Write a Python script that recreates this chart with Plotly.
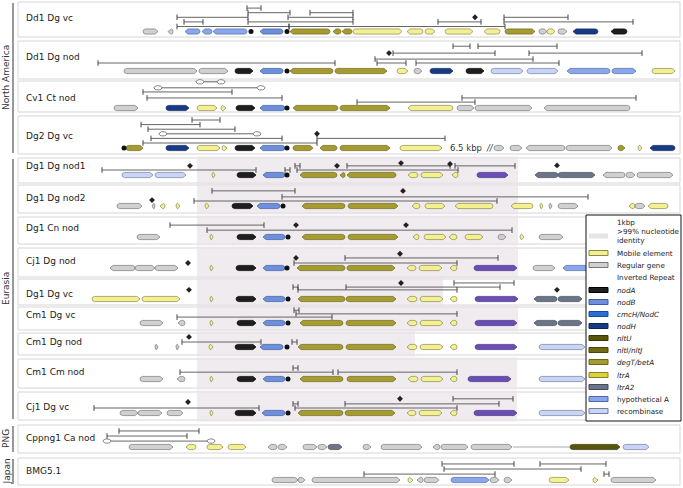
import plotly.graph_objects as go
import math

# ---------------- data ----------------
row_names = ["Dd1 Dg vc", "Dd1 Dg nod", "Cv1 Ct nod", "Dg2 Dg vc",
             "Dg1 Dg nod1", "Dg1 Dg nod2", "Dg1 Cn nod", "Cj1 Dg nod", "Dg1 Dg vc",
             "Cm1 Dg vc", "Cm1 Dg nod", "Cm1 Cm nod", "Cj1 Dg vc",
             "Cppng1 Ca nod", "BMG5.1"]
group_names = ["North America", "Eurasia", "PNG", "Japan"]
group_first = [0, 4, 13, 14]
group_last = [3, 12, 13, 14]

# genes per row: (start, end, type, strand)   positions in map units
g01 = [(143,158,"reg",1),(168,173,"reg",-1),(185,200,"hypA",-1),(202,212,"hypA",-1),(213,247,"hypA",-1),
       (260,283,"nodB",-1),(290,330,"degT",-1),(333,341,"degT",-1),(342,352,"degT",-1),(353,402,"mob",1),
       (407,423,"mob",-1),(425,435,"mob",1),(445,473,"mob",1),(484,500,"mob",-1),(505,535,"degT",1),
       (539,547,"reg",1),(547,555,"mob",1),(558,567,"reg",1),(573,598,"nodH",-1),(611,627,"nodA",-1)]
g02 = [(124,197,"reg",1),(199,228,"reg",1),(235,253,"nodA",1),(260,283,"nodB",-1),(290,333,"degT",-1),
       (335,387,"degT",1),(397,408,"mob",1),(414,422,"reg",1),(430,453,"nodH",1),(466,484,"nodA",1),
       (491,523,"rec",1),(527,558,"rec",1),(567,610,"hypA",-1),(612,636,"hypA",1),(652,675,"mob",1)]
g03 = [(114,138,"reg",1),(166,189,"nodH",1),(197,217,"mob",1),(221,226,"mob",1),(236,255,"nodA",1),
       (260,285,"nodB",-1),(293,338,"degT",-1),(340,390,"degT",1),(408,453,"mob",-1),(457,474,"reg",1),
       (475,532,"reg",1),(544,630,"reg",-1)]
g04 = [(126,143,"degT",1),(166,189,"nodH",1),(197,220,"mob",1),(222,227,"mob",1),(235,255,"nodA",1),
       (260,285,"nodB",-1),(293,313,"degT",1),(320,337,"degT",-1),(340,390,"degT",1),(400,442,"mob",1),
       (494,504,"reg",1),(510,522,"reg",1),(526,565,"reg",-1),(566,612,"reg",1),(618,625,"degT",1),
       (638,642,"mob",1),(650,675,"nodH",-1)]
g05 = [(122,153,"rec",1),(155,186,"rec",1),(212,215,"mob",1),(237,256,"nodA",1),(263,285,"nodB",-1),
       (300,337,"degT",-1),(340,345,"degT",-1),(347,396,"degT",-1),(408,418,"mob",-1),(421,443,"mob",1),
       (452,458,"mob",-1),(477,508,"pur",1),(535,558,"ltrA2",-1),(558,595,"ltrA2",1),(603,625,"reg",-1),
       (626,635,"reg",1),(637,673,"reg",1)]
g06 = [(117,142,"reg",1),(152,155,"reg",-1),(160,165,"mob",-1),(176,180,"mob",1),(205,209,"mob",1),
       (232,253,"nodA",1),(257,280,"nodB",-1),(302,345,"degT",-1),(348,398,"degT",1),(412,420,"mob",-1),
       (425,445,"mob",1),(455,493,"mob",-1),(511,533,"mob",-1),(540,543,"mob",1),(549,552,"reg",1),
       (558,578,"reg",1),(629,635,"mob",-1),(635,645,"reg",1),(648,668,"mob",-1)]
g07 = [(137,160,"reg",1),(210,213,"mob",1),(237,256,"nodA",1),(263,285,"nodB",-1),(302,345,"degT",-1),
       (348,398,"degT",1),(413,419,"mob",-1),(424,446,"mob",1),(449,457,"mob",-1),(465,483,"mob",1),
       (498,506,"reg",1),(520,524,"mob",1),(539,563,"reg",1)]
g08 = [(110,135,"reg",-1),(135,155,"reg",1),(155,178,"reg",1),(210,213,"mob",1),(236,256,"nodA",1),
       (263,285,"nodB",-1),(297,345,"degT",-1),(347,395,"degT",1),(407,416,"mob",-1),(419,442,"mob",1),
       (450,457,"mob",-1),(474,517,"pur",1),(533,555,"reg",1),(563,590,"hypA",-1)]
g09 = [(92,140,"mob",1),(142,180,"mob",1),(210,213,"mob",1),(236,256,"nodA",1),(263,285,"nodB",-1),
       (298,345,"degT",-1),(346,396,"degT",1),(407,417,"mob",-1),(420,443,"mob",1),(450,457,"mob",-1),
       (475,518,"pur",1),(534,557,"ltrA2",-1),(558,582,"ltrA2",1)]
g10 = [(140,163,"reg",1),(178,185,"reg",-1),(210,213,"mob",1),(237,256,"nodA",1),(263,285,"nodB",-1),
       (300,343,"degT",-1),(346,396,"degT",1),(407,417,"mob",-1),(420,443,"mob",1),(450,457,"mob",-1),
       (475,517,"pur",1),(534,557,"ltrA2",-1),(558,582,"ltrA2",1)]
g11 = [(155,158,"reg",1),(176,179,"reg",1),(209,213,"mob",1),(235,256,"nodA",1),(260,283,"nodB",-1),
       (298,343,"degT",-1),(346,396,"degT",1),(407,417,"mob",-1),(420,443,"mob",1),(450,457,"mob",-1),
       (475,517,"pur",1),(539,585,"rec",1)]
g12 = [(140,163,"reg",1),(177,185,"reg",-1),(210,213,"mob",1),(237,256,"nodA",1),(263,285,"nodB",-1),
       (300,343,"degT",-1),(347,396,"degT",1),(408,418,"mob",-1),(421,443,"mob",1),(450,457,"mob",-1),
       (468,511,"pur",1),(539,585,"rec",1)]
g13 = [(120,138,"reg",1),(138,162,"reg",1),(167,183,"reg",1),(210,213,"mob",1),(235,256,"nodA",1),
       (262,285,"nodB",-1),(298,343,"degT",-1),(345,395,"degT",1),(407,416,"mob",-1),(419,442,"mob",1),
       (450,457,"mob",-1),(474,517,"pur",1),(539,585,"rec",1)]
g14 = [(129,173,"reg",1),(186,196,"mob",-1),(207,223,"mob",1),(228,246,"mob",1),(268,277,"reg",-1),
       (278,287,"reg",1),(303,317,"reg",1),(318,327,"reg",1),(328,342,"ltrA2",1),(363,371,"reg",1),
       (381,422,"reg",1),(433,440,"reg",-1),(441,468,"reg",1),(471,512,"reg",1),(570,620,"nltU",1),
       (623,649,"rec",1)]
g15 = [(272,298,"reg",1),(298,305,"reg",1),(312,400,"reg",1),(408,413,"mob",1),(417,423,"reg",-1),
       (424,439,"reg",1),(451,489,"hypA",1),(490,499,"reg",1),(504,512,"reg",1),(549,569,"mob",1),
       (593,598,"mob",1),(611,656,"reg",1)]
row_genes = [g01,g02,g03,g04,g05,g06,g07,g08,g09,g10,g11,g12,g13,g14,g15]

# non-coding stretch (thin line) in PNG row: (row, start, end)
spacers = [(13, 513, 570)]

# small nodA-adjacent terminal blobs: (row, position)
blobs = [(0,251),(0,287),(1,287),(2,287),(3,124),(3,287),(4,287),(5,283),(6,288),(7,287),
         (8,288),(9,288),(10,287),(11,288),(12,288)]

# inverted repeats: (row, start, end, level)
inv_rep = [
    (0,247,261,4),(0,248,290,3),(0,310,353,3),(0,177,248,2),(0,288,353,2),(0,504,568,2),
    (0,184,203,1),(0,248,353,1),(0,438,481,1),(0,504,633,1),(0,177,289,0),(0,289,505,0),
    (1,98,335,0.65),(1,377,406,0.65),(1,416,559,0.65),(1,375,533,1.5),(1,393,495,2.8),(1,529,642,2.8),
    (1,453,470,4.3),(1,478,557,4.3),
    (2,357,475,0.2),(2,147,282,1.1),(2,462,636,1.1),(2,143,232,2.4),
    (3,143,317,0),(3,151,282,1),(3,317,445,1),(3,148,235,3),(3,141,200,4),(3,192,220,5),
    (4,102,256,0),(4,285,290,0),(4,297,458,0),(4,295,300,0.9),(4,347,450,0.9),(4,455,515,0.9),
    (5,194,497,0),(5,282,588,0.9),(5,212,295,2.2),
    (6,207,512,0.4),(6,170,264,1.5),
    (7,294,457,0),(7,345,498,1.1),
    (8,298,457,0.9),(8,293,298,1.5),(8,346,500,1.5),(8,454,514,2.4),
    (9,177,332,0.2),(9,296,457,0.9),(9,294,299,1.7),
    (10,182,261,0),(10,292,297,0),
    (11,180,333,0.4),(11,338,457,0.4),(11,293,298,1.3),
    (12,94,259,0),(12,295,457,0),(12,293,298,0.9),(12,345,499,0.9),(12,453,513,2),
    (13,119,199,2.4),(13,107,187,1.3),
    (14,442,514,2.4),(14,540,606,2.4),(14,444,581,1.3),(14,364,495,0.2),(14,604,609,0.2),
]
# repeats drawn with oval ends: (row, start, end, level)
inv_rep_oval = [(2,200,221,4.6),(2,158,261,3.3),(3,163,257,2),(13,107,211,0.2)]

# single-site markers: (row, position, level)
sites = [(0,475,2),(1,389,2.8),(3,317,2),(4,190,0.9),(4,337,0.9),(4,401,1.5),(4,450,1.3),(4,557,1),
         (5,152,0.2),(5,403,2.2),(6,296,1.5),(6,406,1.5),(7,188,0),(7,296,1.1),(7,400,2),
         (8,189,0.9),(8,401,2.4),(8,557,0.9),(10,189,1.1),(12,188,1.3),(12,400,2)]

# >99% nucleotide identity blocks: (row, start, end)
identity = [(4,197,518),(5,197,518),(6,197,518),(7,197,518),(8,197,443),(9,197,518),
            (10,197,415),(11,197,517),(12,197,517)]

legend_items = [("mob","Mobile element",False),("reg","Regular gene",False),
                ("nodA","nodA",True),("nodB","nodB",True),("nodC","cmcH/NodC",True),
                ("nodH","nodH",True),("nltU","nltU",True),("nltIJ","nltI/nltJ",True),
                ("degT","degT/betA",True),("ltrA","ltrA",True),("ltrA2","ltrA2",True),
                ("hypA","hypothetical A",False),("rec","recombinase",False)]

# ---------------- style / layout ----------------
W, H = 683, 488
row_top = [2, 41, 81, 116, 158, 185, 217, 248, 279, 307, 333, 359, 392, 425, 458]
row_bot = [37, 79, 112, 154, 183, 213, 244, 277, 305, 330, 355, 388, 420, 453, 485]
gene_y = [31.5, 71, 108, 148, 175, 206, 237, 268, 299, 323, 347, 379, 413, 447, 480]
label_y = [18, 57, 98, 136, 166, 198, 228, 261, 294, 315, 342, 372, 407, 438, 471]
PANEL_X0, PANEL_X1 = 18, 680
FONT = "DejaVu Sans"
LABEL_SIZE = 9.0
LEG_SIZE = 7.2

colors = {
    "mob": ("#f4ef8f", "#8a8650"), "reg": ("#d0d0d0", "#777777"),
    "nodA": ("#1e1e1e", "#000000"), "nodB": ("#6e8fdc", "#3c5aa0"),
    "nodC": ("#2a6fd8", "#1a4a9a"), "nodH": ("#173a86", "#0e2558"),
    "nltU": ("#58540e", "#38350a"), "nltIJ": ("#706a14", "#48440c"),
    "degT": ("#a59b2f", "#6e661c"), "ltrA": ("#dcd13a", "#8c8420"),
    "ltrA2": ("#6c7487", "#44495a"), "hypA": ("#8aa7ec", "#4c68a8"),
    "rec": ("#c9d5f2", "#6f7fa6"), "pur": ("#6b4db8", "#45307a"),
}

def ir_y(row, level):
    return gene_y[row] - 5 - 4.6 * level

def gene_poly(s, e, y, strand, h=2.6):
    t = min(3.0, (e - s) * 0.5)
    r = min(h, (e - s) * 0.3)
    if strand >= 0:
        xs = [s + r - r * math.sin(k * math.pi / 4) for k in range(5)]
        ys = [y - h * math.cos(k * math.pi / 4) for k in range(5)]
        xs += [e - t, e, e - t, xs[0]]
        ys += [y + h, y, y - h, ys[0]]
    else:
        xs = [e - r + r * math.sin(k * math.pi / 4) for k in range(5)]
        ys = [y - h * math.cos(k * math.pi / 4) for k in range(5)]
        xs += [s + t, s, s + t, xs[0]]
        ys += [y + h, y, y - h, ys[0]]
    return xs, ys

def ellipse(cx, cy, rx=4.0, ry=2.2, n=16):
    xs = [cx + rx * math.cos(2 * math.pi * k / n) for k in range(n + 1)]
    ys = [cy + ry * math.sin(2 * math.pi * k / n) for k in range(n + 1)]
    return xs, ys

fig = go.Figure()
shapes, annots = [], []

for i in range(len(row_names)):
    shapes.append(dict(type="rect", xref="x", yref="y", x0=PANEL_X0, x1=PANEL_X1,
                       y0=row_top[i], y1=row_bot[i], layer="below",
                       line=dict(color="#d6d6d6", width=1), fillcolor="white"))
for (r, s, e) in identity:
    shapes.append(dict(type="rect", xref="x", yref="y", x0=s, x1=e,
                       y0=row_top[r] - 1.5, y1=row_bot[r] + 1.5, layer="below",
                       line=dict(width=0), fillcolor="rgba(232,226,232,0.7)"))
for name, a, b in zip(group_names, group_first, group_last):
    y0, y1 = row_top[a] + 1, row_bot[b] - 1
    shapes.append(dict(type="line", xref="x", yref="y", x0=13, x1=13, y0=y0, y1=y1,
                       line=dict(color="#333333", width=1)))
    annots.append(dict(x=6, y=(y0 + y1) / 2, xref="x", yref="y", text=name, textangle=-90,
                       showarrow=False, font=dict(family=FONT, size=9, color="#333333")))
for i, nm in enumerate(row_names):
    annots.append(dict(x=24, y=label_y[i], xref="x", yref="y", text=nm, xanchor="left",
                       showarrow=False, font=dict(family=FONT, size=LABEL_SIZE, color="#222222")))

for (r, s, e) in spacers:
    fig.add_trace(go.Scatter(x=[s, e], y=[gene_y[r], gene_y[r]], mode="lines",
                             line=dict(color="#aaaaaa", width=1), hoverinfo="skip", showlegend=False))

for key, (fc, lc) in colors.items():
    xs, ys = [], []
    for r, gl in enumerate(row_genes):
        for (s, e, t, d) in gl:
            if t != key:
                continue
            px, py = gene_poly(s, e, gene_y[r], d)
            xs += px + [None]; ys += py + [None]
    if xs:
        fig.add_trace(go.Scatter(x=xs, y=ys, mode="lines", fill="toself", fillcolor=fc,
                                 line=dict(color=lc, width=0.7), hoverinfo="skip", showlegend=False))

fig.add_trace(go.Scatter(x=[p for r, p in blobs], y=[gene_y[r] for r, p in blobs], mode="markers",
                         marker=dict(color="#111111", size=5), hoverinfo="skip", showlegend=False))

lx, ly, ex, ey = [], [], [], []
for (r, s, e, lv) in inv_rep:
    y = ir_y(r, lv)
    lx += [s, e, None]; ly += [y, y, None]
    ex += [s, e]; ey += [y, y]
fig.add_trace(go.Scatter(x=lx, y=ly, mode="lines", line=dict(color="#555555", width=0.9),
                         hoverinfo="skip", showlegend=False))
fig.add_trace(go.Scatter(x=ex, y=ey, mode="markers",
                         marker=dict(symbol="line-ns", size=4, line=dict(color="#444444", width=1)),
                         hoverinfo="skip", showlegend=False))
ox, oy, olx, oly = [], [], [], []
for (r, s, e, lv) in inv_rep_oval:
    y = ir_y(r, lv)
    olx += [s, e, None]; oly += [y, y, None]
    for c in (s, e):
        px, py = ellipse(c, y)
        ox += px + [None]; oy += py + [None]
fig.add_trace(go.Scatter(x=olx, y=oly, mode="lines", line=dict(color="#555555", width=0.9),
                         hoverinfo="skip", showlegend=False))
fig.add_trace(go.Scatter(x=ox, y=oy, mode="lines", fill="toself", fillcolor="white",
                         line=dict(color="#666666", width=0.8), hoverinfo="skip", showlegend=False))
fig.add_trace(go.Scatter(x=[p for r, p, l in sites], y=[ir_y(r, l) for r, p, l in sites],
                         mode="markers", marker=dict(symbol="diamond", size=4.5, color="#222222"),
                         hoverinfo="skip", showlegend=False))

annots.append(dict(x=448, y=gene_y[3], xref="x", yref="y", text="6.5 kbp", xanchor="left",
                   showarrow=False, font=dict(family=FONT, size=8.5, color="#333333")))
annots.append(dict(x=484, y=gene_y[3], xref="x", yref="y", text="<i>//</i>", xanchor="left",
                   showarrow=False, font=dict(family=FONT, size=8.5, color="#333333")))

# ---------------- legend (drawn) ----------------
LX0, LX1, LY0, LY1 = 586, 681, 215, 421
shapes.append(dict(type="rect", xref="x", yref="y", x0=LX0, x1=LX1, y0=LY0, y1=LY1,
                   line=dict(color="#111111", width=1), fillcolor="white"))
SX0, SX1, TX = 589, 608, 615
fig.add_trace(go.Scatter(x=[SX0, SX1], y=[222, 222], mode="lines+markers",
                         line=dict(color="#111111", width=1.5),
                         marker=dict(symbol="line-ns", size=6, line=dict(color="#111111", width=1.5)),
                         hoverinfo="skip", showlegend=False))
annots.append(dict(x=TX, y=222, xref="x", yref="y", text="1kbp", xanchor="left", showarrow=False,
                   font=dict(family=FONT, size=LEG_SIZE, color="#222222")))
shapes.append(dict(type="rect", xref="x", yref="y", x0=SX0, x1=SX1, y0=233.5, y1=238.5,
                   line=dict(width=0), fillcolor="#e4e4e4"))
annots.append(dict(x=TX, y=236, xref="x", yref="y", text=">99% nucleotide<br>identity",
                   xanchor="left", align="left", showarrow=False,
                   font=dict(family=FONT, size=LEG_SIZE, color="#222222")))
ly_list = [253, 265, 290, 302, 314, 326, 338, 350, 362, 375, 387, 399, 411]
for (key, label, ital), yy in zip(legend_items, ly_list):
    fc, lc = colors[key]
    shapes.append(dict(type="rect", xref="x", yref="y", x0=SX0, x1=SX1, y0=yy - 2.5, y1=yy + 2.5,
                       line=dict(color=lc, width=1), fillcolor=fc))
    annots.append(dict(x=TX, y=yy, xref="x", yref="y", text=("<i>%s</i>" % label) if ital else label,
                       xanchor="left", showarrow=False, font=dict(family=FONT, size=LEG_SIZE, color="#222222")))
fig.add_trace(go.Scatter(x=[SX0 + 1, SX1 - 1], y=[277, 277], mode="lines+markers",
                         line=dict(color="#222222", width=1),
                         marker=dict(symbol=["triangle-left", "triangle-right"], size=4, color="#222222"),
                         hoverinfo="skip", showlegend=False))
annots.append(dict(x=TX, y=277, xref="x", yref="y", text="Inverted Repeat", xanchor="left",
                   showarrow=False, font=dict(family=FONT, size=LEG_SIZE, color="#222222")))

fig.update_layout(width=W, height=H, margin=dict(l=0, r=0, t=0, b=0),
                  paper_bgcolor="white", plot_bgcolor="white",
                  xaxis=dict(range=[0, W], visible=False, fixedrange=True),
                  yaxis=dict(range=[H, 0], visible=False, fixedrange=True),
                  shapes=shapes, annotations=annots, showlegend=False)
fig.write_html("out.html", config={"displayModeBar": False},
               post_script="document.body.style.margin='0';document.body.style.overflow='hidden';")
